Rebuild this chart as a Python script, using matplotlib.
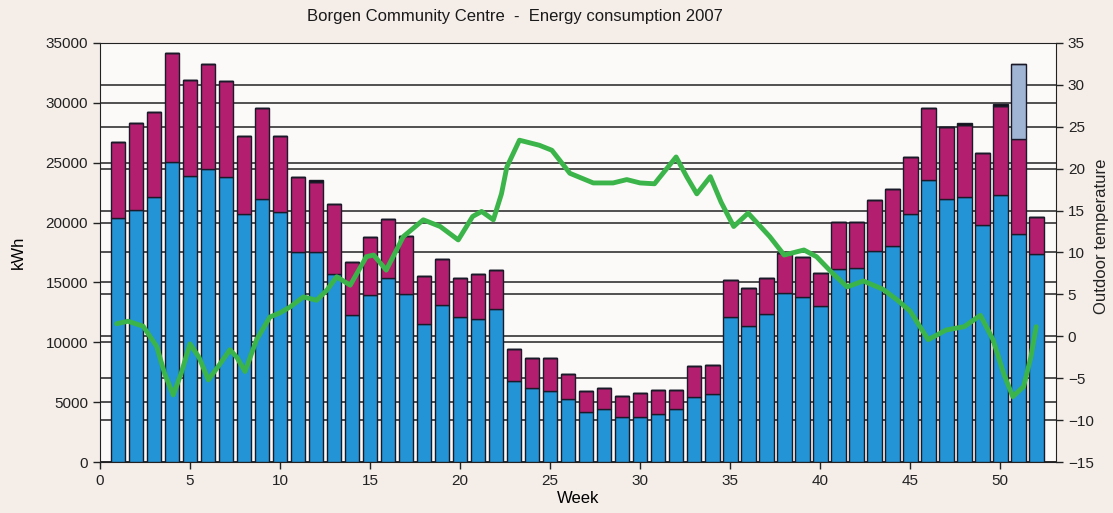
import numpy as np
import matplotlib
matplotlib.use("Agg")
import matplotlib.pyplot as plt

plt.rcParams['font.family'] = ['Liberation Sans Narrow', 'Liberation Sans', 'DejaVu Sans']

# Weekly energy use (kWh), stacked segments
weeks = np.arange(1, 53)
heating = [20350, 21050, 22100, 25100, 23850, 24450, 23800, 20700, 21950, 20850,
           17550, 17550, 15700, 12300, 13950, 15350, 14050, 11550, 13100, 12100,
           11950, 12750, 6800, 6150, 5950, 5250, 4150, 4450, 3800, 3800,
           4050, 4450, 5400, 5700, 12100, 11400, 12350, 14150, 13750, 13050,
           16100, 16200, 17650, 18050, 20700, 23550, 21950, 22100, 19800, 22300,
           19050, 17350]
electricity = [6400, 7250, 7150, 9100, 8100, 8800, 8050, 6550, 7600, 6400,
               6250, 5850, 5850, 4400, 4850, 4950, 4850, 4000, 3850, 3250,
               3750, 3300, 2600, 2500, 2700, 2100, 1800, 1700, 1700, 2000,
               1950, 1550, 2600, 2400, 3100, 3100, 3050, 3300, 3350, 2700,
               3950, 3850, 4200, 4750, 4750, 6000, 6000, 6050, 6000, 7450,
               7900, 3150]
extra = [0] * 50 + [6300, 0]
misc = [0] * 11 + [150] + [0] * 35 + [150, 0, 150, 0, 0]

# Outdoor temperature (deg C)
temp_week = [0.93, 1.56, 2.4, 3.15, 3.6, 4.07, 4.5, 5.0, 5.5, 6.02, 6.6, 7.22, 7.6, 8.06,
             8.7, 9.44, 10.0, 10.56, 11.3, 12.04, 12.6, 13.15, 13.9, 14.8, 15.2, 15.9,
             16.85, 17.96, 18.9, 19.9, 20.7, 21.2, 21.85, 22.3, 22.6, 23.3, 24.4, 25.1,
             26.1, 27.4, 28.5, 29.26, 30.0, 30.8, 31.4, 32.0, 32.6, 33.15, 33.9, 34.5,
             35.2, 36.0, 37.2, 38.0, 39.1, 39.8, 40.7, 41.5, 42.4, 43.5, 44.3, 45.0,
             46.0, 47.0, 48.0, 48.9, 49.6, 50.2, 50.7, 51.3, 51.7, 52.0]
temp = [1.5, 1.8, 1.2, -1.2, -4.5, -7.0, -4.5, -0.9, -2.5, -5.2, -3.5, -1.6, -2.5, -4.2,
        -0.4, 2.3, 2.8, 3.5, 4.7, 4.3, 5.5, 7.1, 6.1, 9.5, 9.7, 7.9,
        11.9, 13.9, 13.1, 11.5, 14.3, 14.9, 13.9, 17.0, 20.2, 23.4, 22.8, 22.2,
        19.45, 18.3, 18.3, 18.7, 18.3, 18.2, 19.8, 21.4, 19.0, 17.0, 19.05, 16.0,
        13.1, 14.7, 11.9, 9.7, 10.3, 9.5, 7.5, 5.9, 6.6, 5.6, 4.3, 3.0,
        -0.4, 0.75, 1.15, 2.5, -0.4, -4.5, -7.2, -6.0, -2.5, 1.15]

kwh_ticks = np.arange(0, 35001, 5000)
temp_ticks = np.arange(-15, 36, 5)
week_ticks = np.arange(0, 51, 5)

fig = plt.figure(figsize=(11.13, 5.13), dpi=100, facecolor='#f4ede8')
rect = [0.0898, 0.0994, 0.8590, 0.8168]

# background axes carrying the temperature grid lines
ax_g = fig.add_axes(rect, zorder=0)
ax_g.set_facecolor('#fbfaf8')
ax_g.set_xlim(0, 53.1)
ax_g.set_ylim(-15, 35)
ax_g.set_yticks(temp_ticks)
ax_g.set_xticks([])
ax_g.tick_params(left=False, labelleft=False)
ax_g.grid(axis='y', color='#222222', lw=1.1)
for s in ax_g.spines.values():
    s.set_visible(False)

# bars on the kWh axis
ax = fig.add_axes(rect, zorder=1)
ax.patch.set_visible(False)
w = 0.82
b1 = np.array(heating)
b2 = b1 + np.array(electricity)
b3 = b2 + np.array(extra)
ax.bar(weeks, heating, width=w, color='#2394d6', edgecolor='#1a1a2a', lw=1.0, zorder=3)
ax.bar(weeks, electricity, bottom=b1, width=w, color='#b31f6e', edgecolor='#1a1a2a', lw=1.0, zorder=3)
ax.bar(weeks, extra, bottom=b2, width=w, color='#9fb5d3', edgecolor='#1a1a2a', lw=1.0, zorder=3)
ax.bar(weeks, misc, bottom=b3, width=w, color='#111111', edgecolor='#1a1a2a', lw=1.0, zorder=3)
ax.set_xlim(0, 53.1)
ax.set_ylim(0, 35000)
ax.set_yticks(kwh_ticks)
ax.set_xticks(week_ticks)
ax.grid(axis='y', color='#222222', lw=1.1, zorder=0)
ax.set_axisbelow(True)
ax.tick_params(axis='both', direction='out', length=5, width=1, labelsize=11, colors='#222222')
ax.set_xlabel('Week', fontsize=12, labelpad=2)
ax.set_ylabel('kWh', fontsize=12, labelpad=14)
for s in ax.spines.values():
    s.set_color('#222222')

# temperature line
ax_t = fig.add_axes(rect, zorder=2, sharex=ax)
ax_t.patch.set_visible(False)
ax_t.plot(temp_week, temp, color='#3bb54a', lw=3.5, solid_joinstyle='round', solid_capstyle='round')
ax_t.set_ylim(-15, 35)
ax_t.set_yticks(temp_ticks)
ax_t.yaxis.tick_right()
ax_t.tick_params(axis='y', direction='out', length=5, width=1, labelsize=11, colors='#222222')
ax_t.tick_params(axis='x', bottom=False, labelbottom=False)
for s in ax_t.spines.values():
    s.set_visible(False)

fig.text(0.463, 0.967, 'Borgen Community Centre  -  Energy consumption 2007',
         ha='center', va='center', fontsize=12, color='#1a1a1a')
fig.text(0.990, 0.54, 'Outdoor temperature', rotation=90, ha='center', va='center',
         fontsize=12, color='#222222')

fig.savefig('out.png', dpi=100, facecolor=fig.get_facecolor())
